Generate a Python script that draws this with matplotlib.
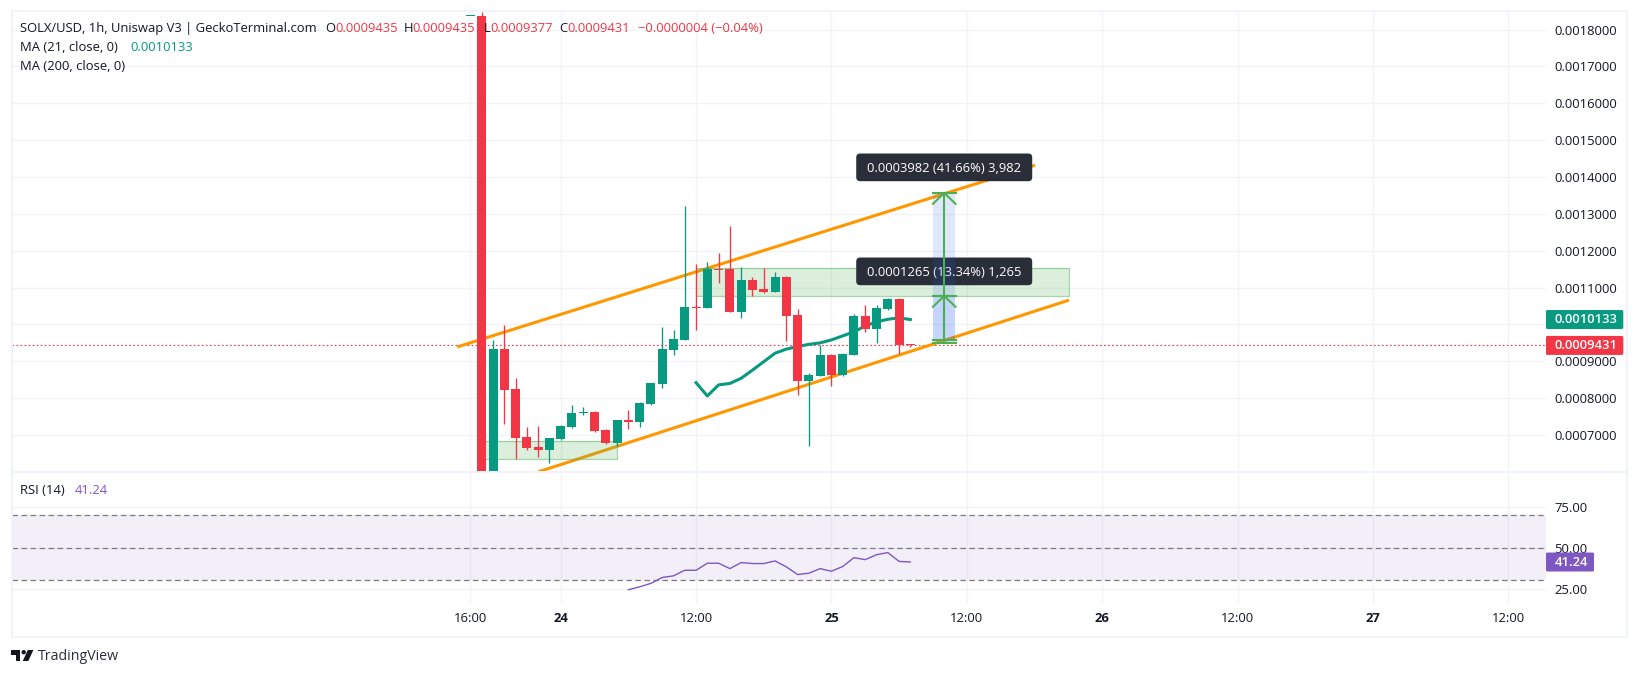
import matplotlib
matplotlib.use("Agg")
import matplotlib.pyplot as plt
from matplotlib.patches import FancyBboxPatch, Rectangle, Polygon, Circle
from matplotlib.transforms import IdentityTransform

plt.rcParams['font.family'] = ['Open Sans', 'DejaVu Sans']
plt.rcParams['lines.scale_dashes'] = False

# ---------- data ----------
candle_hours = list(range(-8, 32))   # hours since 24th 00:00
opens = [.001836, .001838, .000590, .000933, .000825, .000695, .000668, .000660, .000689, .000722,
         .000759, .000762, .000714, .000679, .000741, .000735, .000784, .000838, .000931, .000958,
         .001047, .001044, .001150, .001150, .001033, .001120, .001096, .001088, .001128, .001025,
         .000847, .000860, .000917, .000863, .000917, .001023, .000987, .001042, .001069, .0009435]
highs = [.001838, .001847, .000958, .000998, .000855, .000722, .000725, .000692, .000727, .000781,
         .000776, .000764, .000716, .000741, .000768, .000790, .000841, .000993, .000985, .001321,
         .001164, .001169, .001193, .001266, .001155, .001128, .001153, .001142, .001131, .001042,
         .000868, .000944, .000920, .000922, .001028, .001052, .001052, .001072, .001072, .0009435]
lows = [.001836, .000590, .000590, .000730, .000636, .000660, .000641, .000625, .000687, .000719,
        .000754, .000709, .000676, .000670, .000716, .000722, .000781, .000828, .000917, .000958,
        .000985, .001044, .001112, .001033, .001017, .001077, .001085, .001088, .000955, .000809,
        .000670, .000860, .000833, .000861, .000917, .000979, .000950, .001040, .000921, .0009377]
closes = [.001838, .000590, .000933, .000822, .000692, .000665, .000660, .000692, .000724, .000760,
          .000762, .000711, .000679, .000741, .000735, .000787, .000841, .000933, .000960, .001047,
          .001044, .001150, .001147, .001033, .001120, .001093, .001088, .001128, .001023, .000847,
          .000863, .000917, .000863, .000920, .001023, .000987, .001044, .001069, .000943, .0009431]

ma_hours = list(range(12, 32))
ma_values = [.000842, .000806, .000836, .000840, .000854, .000876, .000899, .000922, .000933, .000940,
             .000946, .000950, .000958, .000969, .000980, .000996, .001007, .001014, .001018, .0010133]

rsi_hours = list(range(6, 32))
rsi_values = [24.3, 26.1, 28.2, 31.8, 32.8, 36.2, 36.2, 40.5, 40.5, 37.2, 40.9, 40.3, 40.3, 41.9, 38.3,
              33.6, 34.4, 37.2, 35.6, 38.5, 43.9, 42.7, 45.7, 47.0, 41.6, 41.24]

upper_x, upper_y = [-9.17, 42.05], [.000939, .001432]
lower_x, lower_y = [-2.0, 45.06], [.000600, .001066]
zone_top = (12.0, 45.06, .001076, .001154)
zone_bottom = (-7.0, 5.0, .000636, .000683)

big_range = (.000959, .001357)
small_range = (.000951, .0010775)
range_x = (33.0, 35.0)
big_label = "0.0003982 (41.66%) 3,982"
small_label = "0.0001265 (13.34%) 1,265"

price_ticks = [.0007, .0008, .0009, .0010, .0011, .0012, .0013, .0014, .0015, .0016, .0017, .0018]
price_tick_labels = ["0.0007000", "0.0008000", "0.0009000", "", "0.0011000", "0.0012000", "0.0013000",
                     "0.0014000", "0.0015000", "0.0016000", "0.0017000", "0.0018000"]
rsi_ticks = [25, 50, 75]
rsi_tick_labels = ["25.00", "50.00", "75.00"]
time_ticks = [-8, 0, 12, 24, 36, 48, 60, 72, 84]
time_labels = ["16:00", "24", "12:00", "25", "12:00", "26", "12:00", "27", "12:00"]

last_price = .0009431
last_ma = .0010133
last_rsi = 41.24

UP, DOWN = '#089981', '#f23645'
INK, GRID, FRAME = '#131722', '#f2f3f6', '#f0f3fa'
PURPLE = '#7e57c2'
GREEN = '#4caf50'
FS = 9.4

# ---------- layout ----------
W, H = 1638, 676
fig = plt.figure(figsize=(W / 100, H / 100), dpi=100, facecolor='white')


def add_axes(l, t, r, b):
    return fig.add_axes([l / W, 1 - b / H, (r - l) / W, (b - t) / H])


ax = add_axes(12, 11.5, 1546, 472)
rx = add_axes(12, 473, 1546, 604)
xlim = ((12 - 560.7) / 11.28, (1546 - 560.7) / 11.28)
ax.set_xlim(*xlim)
rx.set_xlim(*xlim)
ax.set_ylim(.0005997, .001849)
rx.set_ylim(15.6, 95.6)

for a in (ax, rx):
    for s in a.spines.values():
        s.set_visible(False)
    a.set_axisbelow(True)
    a.grid(True, color=GRID, lw=1)
    a.set_xticks(time_ticks)
    a.yaxis.tick_right()
    a.tick_params(length=0, labelsize=FS, labelcolor=INK)
    a.tick_params(axis='y', pad=6.2)

ax.set_yticks(price_ticks)
ax.set_yticklabels(price_tick_labels)
ax.tick_params(axis='x', labelbottom=False)
rx.set_yticks(rsi_ticks)
rx.set_yticklabels(rsi_tick_labels)
rx.set_xticklabels(time_labels)
rx.tick_params(axis='x', pad=5.5)
for lab, txt in zip(rx.get_xticklabels(), time_labels):
    if ':' not in txt:
        lab.set_fontweight('bold')

# ---------- price pane ----------
ax.axhline(last_price, color=DOWN, lw=0.8, ls=(0, (1.2, 1.7)), zorder=1.5)
ax.plot(upper_x, upper_y, color='#ff9800', lw=2.2, zorder=2, solid_capstyle='butt')
ax.plot(lower_x, lower_y, color='#ff9800', lw=2.2, zorder=2, solid_capstyle='butt')
for x0, x1, y0, y1 in (zone_top, zone_bottom):
    ax.add_patch(Rectangle((x0, y0), x1 - x0, y1 - y0, facecolor=GREEN, alpha=0.2, lw=0, zorder=3))
    ax.add_patch(Rectangle((x0, y0), x1 - x0, y1 - y0, fill=False, edgecolor=GREEN, alpha=0.5, lw=0.9, zorder=3))
ax.plot(ma_hours, ma_values, color=UP, lw=2.2, zorder=4, solid_joinstyle='round')

colors = [UP if c >= o else DOWN for o, c in zip(opens, closes)]
ax.vlines(candle_hours, lows, highs, colors=colors, lw=0.95, zorder=5)
one_px = 2.71e-6
ax.bar(candle_hours, [max(abs(c - o), one_px) for o, c in zip(opens, closes)],
       bottom=[min(o, c) for o, c in zip(opens, closes)], width=0.8, color=colors, lw=0, zorder=5.1)


def bubble(xdata, ydata, text, up_px, zorder):
    cx, cy = ax.transData.transform((xdata, ydata))
    cy += up_px
    w, h = 176, 27.7
    ax.add_patch(FancyBboxPatch((cx - w / 2, cy - h / 2), w, h, boxstyle="round,pad=0,rounding_size=4",
                                transform=IdentityTransform(), facecolor='#2a2e39', edgecolor='none',
                                clip_on=False, zorder=zorder))
    ax.text(cx, cy, text, transform=IdentityTransform(), ha='center', va='center_baseline',
            color='white', fontsize=FS, clip_on=False, zorder=zorder + 0.01)


xmid = sum(range_x) / 2
bubble(xmid, big_range[1], big_label, 25.5, 5.5)
bubble(xmid, small_range[1], small_label, 24.5, 5.5)

for y0, y1 in (big_range, small_range):
    ax.add_patch(Rectangle((range_x[0], y0), range_x[1] - range_x[0], y1 - y0,
                           facecolor='#2962ff', alpha=0.14, lw=0, zorder=6))
    ax.plot([xmid, xmid], [y0, y1], color=GREEN, lw=1.5, zorder=6.2)
    ax.plot(range_x, [y0, y0], color=GREEN, lw=1.5, zorder=6.2)
    ax.plot(range_x, [y1, y1], color=GREEN, lw=1.5, zorder=6.2)
    ax.plot([range_x[0], xmid, range_x[1]], [y1 - 11 * one_px, y1, y1 - 11 * one_px],
            color=GREEN, lw=1.5, zorder=6.2)

# ---------- RSI pane ----------
rx.axhspan(30, 70, color=PURPLE, alpha=0.09, lw=0, zorder=1)
for level in (30, 50, 70):
    rx.axhline(level, color='#787b86', lw=0.9, ls=(0, (4, 2.5)), zorder=2)
rx.plot(rsi_hours, rsi_values, color=PURPLE, lw=1.0, zorder=3)


# ---------- texts and chrome, figure pixel coordinates from the top ----------
def t(x, y, s, color=INK, size=FS, **kw):
    kw.setdefault('ha', 'left')
    fig.text(x / W, 1 - y / H, s, color=color, fontsize=size, va='center', zorder=10, **kw)


t(20, 28.3, "SOLX/USD, 1h, Uniswap V3 | GeckoTerminal.com")
for x, s, c in [(325, "O", INK), (335, "0.0009435", DOWN), (404, "H", INK), (412.7, "0.0009435", DOWN),
                (483.3, "L", INK), (490, "0.0009377", DOWN), (559, "C", INK), (567.7, "0.0009431", DOWN),
                (637.7, "\u22120.0000004 (\u22120.04%)", DOWN)]:
    t(x, 28.3, s, c)
t(20, 47.3, "MA (21, close, 0)")
t(130, 47.3, f"{last_ma:.7f}", UP)
t(20, 66.7, "MA (200, close, 0)")
t(20, 490, "RSI (14)")
t(75, 490, f"{last_rsi:.2f}", PURPLE)


def scale_tag(axis, value, text, color, x1, h=19):
    y = axis.transData.transform((0, value))[1]
    fig.add_artist(FancyBboxPatch((1546, y - h / 2), x1 - 1546, h, boxstyle="round,pad=0,rounding_size=1.5",
                                  transform=IdentityTransform(), facecolor=color, edgecolor='none', zorder=8))
    fig.text((1546 + x1) / 2 / W + 1.5 / W, y / H, text, color='white', fontsize=FS, fontweight='semibold',
             ha='center', va='center', zorder=10)


scale_tag(ax, last_ma, f"{last_ma:.7f}", UP, 1623.3)
scale_tag(ax, last_price, f"{last_price:.7f}", DOWN, 1623.3)
scale_tag(rx, last_rsi, f"{last_rsi:.2f}", PURPLE, 1594)

fig.add_artist(Rectangle((11.5, H - 636.5), 1615, 626, transform=IdentityTransform(),
                         fill=False, edgecolor=FRAME, lw=1.5, zorder=7))
fig.add_artist(Rectangle((11.5, H - 473), 1615, 1.6, transform=IdentityTransform(),
                         facecolor=FRAME, edgecolor='none', zorder=7))

# TradingView mark
fig.add_artist(Polygon([(11, H - 650), (20.3, H - 650), (20.3, H - 661), (15.5, H - 661), (15.5, H - 654.5), (11, H - 654.5)],
                       closed=True, transform=IdentityTransform(), facecolor=INK, edgecolor='none', zorder=9))
fig.add_artist(Circle((23.7, H - 652.2), 2.2, transform=IdentityTransform(), facecolor=INK, edgecolor='none', zorder=9))
fig.add_artist(Polygon([(27.8, H - 650), (33.4, H - 650), (28.3, H - 661), (22.8, H - 661)],
                       closed=True, transform=IdentityTransform(), facecolor=INK, edgecolor='none', zorder=9))
t(38, 656.5, "TradingView", size=10.2, color='#2a2e39')

fig.savefig("out.png", dpi=100)
